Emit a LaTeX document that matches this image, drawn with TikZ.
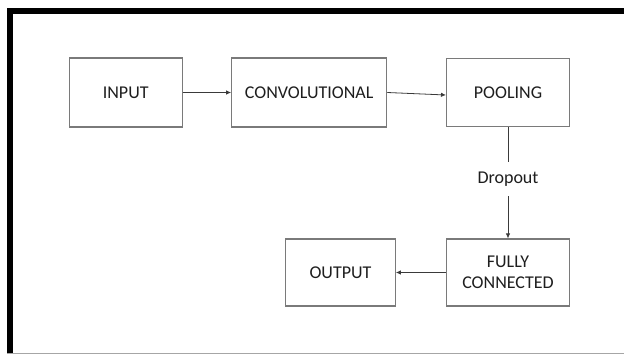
\documentclass[tikz,border=0pt]{standalone}
\usepackage{fontspec}
\setmainfont{Carlito}
\usetikzlibrary{arrows.meta}
\definecolor{boxgray}{HTML}{7A7A7A}
\definecolor{linegray}{HTML}{3A3A3A}
\definecolor{txt}{HTML}{1E1E1E}
\tikzset{
  blockbox/.style={draw=boxgray, line width=1.1pt, fill=white, inner sep=0pt,
    align=center, text=txt, font=\fontsize{18}{20.5}\selectfont},
  conn/.style={draw=linegray, line width=0.8pt},
  connarrow/.style={conn, -{Latex[length=5pt,width=4.5pt]}},
  frameline/.style={draw=black, line width=6pt},
}
\begin{document}
\begin{tikzpicture}[x=1pt,y=-1pt]
\useasboundingbox (0,0) rectangle (624,356);
\fill[white] (0,0) rectangle (624,356);
% frame
\draw[draw=gray!70, line width=1.5pt] (7,353.3) -- (624,353.3);
\draw[frameline] (10.3,353) -- (10.3,11) -- (630,11);
% blocks
\node[blockbox, minimum width=112.7pt, minimum height=69pt] (in) at (125.7,92.5) {INPUT};
\node[blockbox, minimum width=155pt, minimum height=69pt] (conv) at (309.2,92.5) {CONVOLUTIONAL};
\node[blockbox, minimum width=123pt, minimum height=68pt] (pool) at (508,92.5) {POOLING};
\node[blockbox, minimum width=123pt, minimum height=67pt] (fc) at (508,272.5) {FULLY\\CONNECTED};
\node[blockbox, minimum width=109.6pt, minimum height=67pt] (out) at (340.5,272.5) {OUTPUT};
\node[inner sep=0pt, minimum height=34pt, text=txt, font=\fontsize{18}{20.5}\selectfont] (drop) at (508,179) {Dropout};
% connectors
\draw[connarrow] (in.east) -- (conv.west);
\draw[connarrow] (conv.east) -- ([yshift=-2.5pt]pool.west);
\draw[conn] (pool.south) -- (drop.north);
\draw[connarrow] (drop.south) -- (fc.north);
\draw[connarrow] (fc.west) -- (out.east);
\end{tikzpicture}
\end{document}
